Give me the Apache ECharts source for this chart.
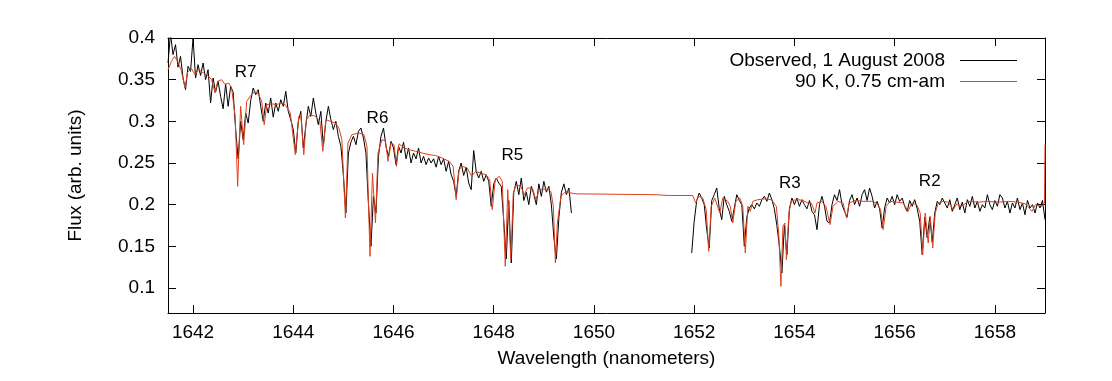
<!DOCTYPE html>
<html>
<head>
<meta charset="utf-8">
<script src="https://cdn.jsdelivr.net/npm/echarts@6/dist/echarts.min.js"></script>
<style>
html,body{margin:0;padding:0;background:#fff;}
#chart{width:1112px;height:381px;}
</style>
</head>
<body>
<div id="chart"></div>
<script>
// ---- Data ----
const seriesNames = ['Observed, 1 August 2008', '90 K, 0.75 cm-am'];

// Observed spectrum: two detector segments, sampled every 0.05 nm
const observedStartA = 1641.50;
const observedFluxA = [
  0.370,0.405,0.380,0.392,0.365,0.378,0.352,0.338,0.366,0.360,
  0.400,0.352,0.368,0.355,0.370,0.350,0.362,0.322,0.352,0.335,
  0.348,0.330,0.315,0.345,0.318,0.342,0.335,0.290,0.255,0.300,
  0.278,0.310,0.298,0.325,0.340,0.332,0.338,0.318,0.300,0.322,
  0.310,0.328,0.305,0.322,0.312,0.326,0.318,0.336,0.312,0.302,
  0.290,0.262,0.300,0.312,0.268,0.295,0.318,0.306,0.328,0.310,
  0.296,0.312,0.270,0.300,0.318,0.302,0.290,0.300,0.282,0.270,
  0.235,0.190,0.262,0.275,0.282,0.272,0.288,0.292,0.280,0.262,
  0.200,0.150,0.210,0.190,0.258,0.282,0.292,0.270,0.258,0.276,
  0.268,0.248,0.270,0.262,0.275,0.255,0.268,0.250,0.262,0.255,
  0.268,0.250,0.258,0.248,0.256,0.250,0.255,0.245,0.258,0.248,
  0.255,0.240,0.252,0.236,0.228,0.210,0.240,0.250,0.235,0.245,
  0.226,0.218,0.265,0.240,0.232,0.240,0.228,0.236,0.228,0.198,
  0.225,0.232,0.226,0.222,0.180,0.135,0.205,0.130,0.215,0.228,
  0.212,0.232,0.205,0.215,0.200,0.222,0.212,0.200,0.225,0.210,
  0.228,0.215,0.222,0.200,0.160,0.135,0.185,0.215,0.225,0.212,
  0.220,0.190
];
const observedStartB = 1651.95;
const observedFluxB = [
  0.142,
  0.180,0.205,0.214,0.208,0.200,0.170,0.148,0.205,0.212,0.220,
  0.195,0.182,0.210,0.200,0.192,0.180,0.196,0.212,0.205,0.200,
  0.150,0.185,0.196,0.200,0.195,0.202,0.198,0.206,0.210,0.204,
  0.214,0.206,0.195,0.175,0.150,0.118,0.175,0.140,0.195,0.208,
  0.200,0.208,0.198,0.206,0.200,0.195,0.205,0.192,0.188,0.170,
  0.200,0.210,0.198,0.180,0.178,0.200,0.212,0.205,0.218,0.200,
  0.192,0.185,0.205,0.212,0.200,0.208,0.198,0.212,0.218,0.205,
  0.220,0.210,0.196,0.204,0.195,0.172,0.196,0.208,0.202,0.210,
  0.200,0.212,0.204,0.208,0.198,0.192,0.205,0.198,0.206,0.195,
  0.180,0.140,0.185,0.160,0.185,0.155,0.190,0.204,0.200,0.208,
  0.202,0.196,0.206,0.192,0.200,0.208,0.194,0.203,0.190,0.206,
  0.198,0.210,0.196,0.204,0.192,0.200,0.196,0.212,0.200,0.194,
  0.205,0.198,0.212,0.208,0.196,0.204,0.190,0.202,0.196,0.208,
  0.194,0.202,0.188,0.205,0.196,0.200,0.190,0.202,0.196,0.205,
  0.182
];
const observedStep = 0.05;

// Model spectrum (90 K, 0.75 cm-am)
const modelWavelength = [
  1641.50,1641.52,1641.57,1641.63,1641.69,1641.76,1641.84,1641.89,1641.97,1642.04,
  1642.11,1642.21,1642.31,1642.37,1642.44,1642.49,1642.57,1642.64,1642.71,1642.77,
  1642.84,1642.89,1642.93,1642.95,1643.01,1643.07,1643.14,1643.23,1643.31,1643.37,
  1643.42,1643.47,1643.57,1643.67,1643.74,1643.84,1643.94,1644.04,1644.11,1644.15,
  1644.21,1644.26,1644.34,1644.44,1644.53,1644.59,1644.65,1644.74,1644.84,1644.91,
  1644.97,1645.04,1645.09,1645.17,1645.31,1645.41,1645.47,1645.53,1645.58,1645.64,
  1645.69,1645.77,1645.84,1645.89,1645.95,1646.01,1646.06,1646.11,1646.21,1646.31,
  1646.44,1646.57,1646.71,1646.84,1646.97,1647.11,1647.19,1647.25,1647.31,1647.37,
  1647.47,1647.56,1647.64,1647.74,1647.84,1647.92,1647.97,1648.03,1648.11,1648.17,
  1648.23,1648.28,1648.34,1648.39,1648.45,1648.54,1648.61,1648.67,1648.77,1648.84,
  1648.91,1649.04,1649.14,1649.19,1649.23,1649.27,1649.34,1649.44,1649.54,1649.64,
  1651.20,1651.51,1651.97,1652.03,1652.09,1652.17,1652.24,1652.29,1652.34,1652.41,
  1652.51,1652.57,1652.67,1652.72,1652.77,1652.83,1652.91,1652.97,1653.02,1653.07,
  1653.12,1653.17,1653.27,1653.41,1653.54,1653.64,1653.69,1653.73,1653.77,1653.81,
  1653.84,1653.89,1653.94,1654.07,1654.17,1654.27,1654.34,1654.41,1654.45,1654.54,
  1654.63,1654.71,1654.77,1654.87,1654.97,1655.04,1655.09,1655.21,1655.37,1655.54,
  1655.64,1655.72,1655.77,1655.83,1655.91,1656.04,1656.17,1656.27,1656.34,1656.44,
  1656.51,1656.56,1656.61,1656.67,1656.71,1656.76,1656.81,1656.87,1656.97,1657.07,
  1657.17,1657.24,1657.34,1657.47,1657.67,1657.87,1658.07,1658.27,1658.47,1658.61,
  1658.74,1658.81,1658.94,1658.99,1659.00
];
const modelFlux = [
  0.362,0.364,0.372,0.378,0.372,0.362,0.340,0.359,0.363,0.356,
  0.362,0.358,0.354,0.350,0.334,0.348,0.350,0.344,0.346,0.340,
  0.306,0.222,0.290,0.318,0.272,0.324,0.330,0.336,0.332,0.324,
  0.296,0.320,0.321,0.320,0.322,0.320,0.310,0.260,0.306,0.308,
  0.260,0.302,0.308,0.306,0.300,0.264,0.302,0.300,0.298,0.292,
  0.278,0.184,0.274,0.284,0.286,0.284,0.270,0.138,0.238,0.178,
  0.262,0.278,0.276,0.252,0.274,0.272,0.246,0.273,0.268,0.266,
  0.264,0.262,0.260,0.259,0.256,0.252,0.246,0.206,0.242,0.246,
  0.244,0.234,0.240,0.238,0.236,0.230,0.194,0.230,0.234,0.228,
  0.126,0.218,0.134,0.214,0.224,0.222,0.212,0.220,0.220,0.206,
  0.218,0.219,0.216,0.198,0.130,0.178,0.210,0.216,0.214,0.213,
  0.212,0.211,0.211,0.202,0.210,0.208,0.194,0.144,0.198,0.208,
  0.190,0.208,0.204,0.198,0.178,0.204,0.208,0.198,0.142,0.198,
  0.192,0.204,0.206,0.207,0.206,0.198,0.162,0.102,0.174,0.178,
  0.134,0.190,0.205,0.206,0.205,0.202,0.202,0.190,0.202,0.204,
  0.198,0.176,0.198,0.204,0.202,0.184,0.202,0.205,0.204,0.204,
  0.202,0.194,0.170,0.198,0.204,0.203,0.202,0.192,0.202,0.200,
  0.190,0.140,0.190,0.154,0.186,0.148,0.190,0.202,0.204,0.203,
  0.194,0.201,0.198,0.204,0.203,0.204,0.203,0.204,0.203,0.201,
  0.192,0.200,0.198,0.202,0.272
];

// Axis ticks
const xTicks = [1642,1644,1646,1648,1650,1652,1654,1656,1658];
const yTicks = [0.1,0.15,0.2,0.25,0.3,0.35,0.4];

// Branch annotations (label, wavelength, flux)
const annotationLabels = ['R7','R6','R5','R3','R2'];
const annotationWavelength = [1643.05,1645.68,1648.37,1653.91,1656.70];
const annotationFlux = [0.359,0.304,0.259,0.226,0.228];

// ---- Build ----
function segment(start, flux) {
  return flux.map((v, i) => [Math.round((start + i * observedStep) * 100) / 100, v]);
}
const observedData = segment(observedStartA, observedFluxA)
  .concat([[1650.75, null]])
  .concat(segment(observedStartB, observedFluxB));
const modelData = modelWavelength.map((w, i) => [w, modelFlux[i]]);

const FONT = "'Liberation Sans', Arial, sans-serif";
const RED = '#e0401e';

const chart = echarts.init(document.getElementById('chart'), null, {renderer: 'canvas'});
const axisCommon = {
  axisLine: {show: true, onZero: false, lineStyle: {color: '#000', width: 1}},
  splitLine: {show: false}
};
chart.setOption({
  animation: false,
  backgroundColor: '#fff',
  grid: {left: 168, top: 38, width: 877, height: 275, containLabel: false},
  legend: {
    orient: 'vertical',
    align: 'right',
    right: 90,
    top: 45,
    itemGap: 0,
    itemWidth: 57,
    itemHeight: 1,
    selectedMode: false,
    textStyle: {fontSize: 19, fontFamily: FONT, color: '#000', lineHeight: 21, padding: [0, 10, 0, 0]},
    data: [
      {name: seriesNames[0], icon: 'rect'},
      {name: seriesNames[1], icon: 'rect'}
    ]
  },
  xAxis: [
    Object.assign({}, axisCommon, {
      type: 'value', position: 'bottom', min: 1641.5, max: 1659,
      axisTick: {show: true, inside: true, length: 8, customValues: xTicks, lineStyle: {color: '#000'}},
      axisLabel: {customValues: xTicks, formatter: v => String(v), fontSize: 19, fontFamily: FONT, color: '#000', margin: 10},
      name: 'Wavelength (nanometers)', nameLocation: 'middle', nameGap: 36,
      nameTextStyle: {fontSize: 19, fontFamily: FONT, color: '#000'}
    }),
    Object.assign({}, axisCommon, {
      type: 'value', position: 'top', min: 1641.5, max: 1659,
      axisTick: {show: true, inside: true, length: 8, customValues: xTicks, lineStyle: {color: '#000'}},
      axisLabel: {show: false}
    })
  ],
  yAxis: [
    Object.assign({}, axisCommon, {
      type: 'value', position: 'left', min: 0.07, max: 0.4,
      axisTick: {show: true, inside: true, length: 8, customValues: yTicks, lineStyle: {color: '#000'}},
      axisLabel: {customValues: yTicks, formatter: v => String(v), fontSize: 19, fontFamily: FONT, color: '#000', margin: 13},
      name: 'Flux (arb. units)', nameLocation: 'middle', nameGap: 83, nameRotate: 90,
      nameTextStyle: {fontSize: 19, fontFamily: FONT, color: '#000'}
    }),
    Object.assign({}, axisCommon, {
      type: 'value', position: 'right', min: 0.07, max: 0.4,
      axisTick: {show: true, inside: true, length: 8, customValues: yTicks, lineStyle: {color: '#000'}},
      axisLabel: {show: false}
    })
  ],
  series: [
    {
      name: seriesNames[0], type: 'line', xAxisIndex: 0, yAxisIndex: 0,
      data: observedData, showSymbol: false, symbol: 'none', connectNulls: false,
      clip: true, lineStyle: {color: '#000', width: 1}, itemStyle: {color: '#000'}
    },
    {
      name: seriesNames[1], type: 'line', xAxisIndex: 0, yAxisIndex: 0,
      data: modelData, showSymbol: false, symbol: 'none',
      clip: true, lineStyle: {color: RED, width: 1}, itemStyle: {color: RED},
      markPoint: {
        symbol: 'circle', symbolSize: 1,
        itemStyle: {color: 'rgba(0,0,0,0)'},
        label: {show: true, position: 'inside', formatter: '{b}', fontSize: 17, fontFamily: FONT, color: '#000'},
        data: annotationLabels.map((n, i) => ({name: n, coord: [annotationWavelength[i], annotationFlux[i]]}))
      }
    }
  ]
});
</script>
</body>
</html>
